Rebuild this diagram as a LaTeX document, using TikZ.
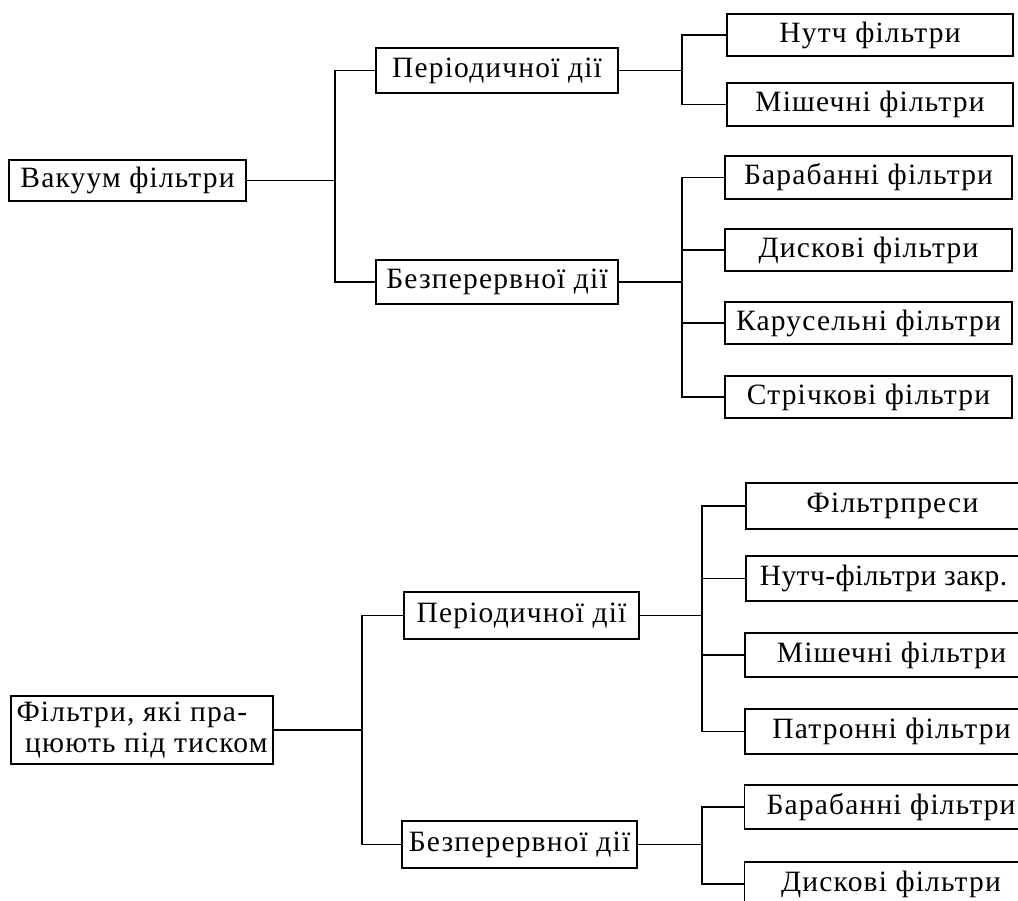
\documentclass[tikz,border=0pt]{standalone}
\usepackage{fontspec}
\setmainfont{Liberation Serif}[LetterSpace=4]
\begin{document}
\begin{tikzpicture}[x=1pt,y=-1pt,
  box/.style={draw, line width=1.6pt, inner sep=0pt, minimum height=#1, font=\fontsize{29.5}{31}\selectfont},
  box/.default=43pt,
  conn/.style={line width=1.6pt}]
\useasboundingbox (0,0) rectangle (1018,901);
\clip (0,0) rectangle (1018,901);
% top tree
\node[box, minimum width=237pt, minimum height=41pt] (vac) at (127.5,180.5) {Вакуум фільтри};
\node[box, minimum width=242pt, minimum height=45pt] (per1) at (497,70.5) {Періодичної дії};
\node[box, minimum width=242pt, minimum height=44pt] (bez1) at (497,282) {Безперервної дії};
\node[box, minimum width=286pt, minimum height=42pt] (n1) at (870,35) {Нутч фільтри};
\node[box, minimum width=286pt, minimum height=43pt] (m1) at (870,104.5) {Мішечні фільтри};
\node[box, minimum width=287pt, minimum height=43pt] (b1) at (868.5,177.5) {Барабанні фільтри};
\node[box, minimum width=287pt, minimum height=42pt] (d1) at (868.5,250) {Дискові фільтри};
\node[box, minimum width=287pt, minimum height=42pt] (k1) at (868.5,323) {Карусельні фільтри};
\node[box, minimum width=287pt, minimum height=42pt] (s1) at (868.5,397) {Стрічкові фільтри};
\coordinate (bus1) at (335,0);
\coordinate (bus2) at (682,0);
\draw[conn] (vac.east) -- (vac.east -| bus1);
\draw[conn] (per1.west) -| (bus1 |- bez1.west) -- (bez1.west);
\draw[conn] (per1.east) -- (per1.east -| bus2);
\draw[conn] (n1.west) -| (bus2 |- m1.west) -- (m1.west);
\draw[conn] (bez1.east) -- (bez1.east -| bus2);
\draw[conn] (b1.west) -| (bus2 |- s1.west) -- (s1.west);
\draw[conn] (d1.west) -- (d1.west -| bus2);
\draw[conn] (k1.west) -- (k1.west -| bus2);
% bottom tree
\node[box, minimum width=262pt, minimum height=68pt, align=left] (pr) at (142,730) {Фільтри, які пра-\\\ цюють під тиском};
\node[box, minimum width=235pt, minimum height=47pt] (per2) at (521.5,615.5) {Періодичної дії};
\node[box, minimum width=235pt, minimum height=47pt] (bez2) at (519.5,844.5) {Безперервної дії};
\node[box, minimum width=293pt, minimum height=46pt] (f2) at (892.5,506) {Фільтрпреси};
\node[box, minimum width=293pt, minimum height=45pt] (nz2) at (892.5,578.5) {\hspace*{-18pt}{\addfontfeature{LetterSpace=1.5}Нутч-фільтри закр.}};
\node[box, minimum width=293pt, minimum height=44pt] (m2) at (891.5,655) {Мішечні фільтри};
\node[box, minimum width=293pt, minimum height=45pt] (p2) at (891.5,731.5) {Патронні фільтри};
\node[box, minimum width=293pt, minimum height=44pt] (b2) at (891,807) {Барабанні фільтри};
\node[box, minimum width=293pt, minimum height=44pt] (d2) at (891,884) {Дискові фільтри};
\coordinate (bus3) at (362,0);
\coordinate (bus4) at (702,0);
\draw[conn] (pr.east) -- (pr.east -| bus3);
\draw[conn] (per2.west) -| (bus3 |- bez2.west) -- (bez2.west);
\draw[conn] (per2.east) -- (per2.east -| bus4);
\draw[conn] (f2.west) -| (bus4 |- p2.west) -- (p2.west);
\draw[conn] (nz2.west) -- (nz2.west -| bus4);
\draw[conn] (m2.west) -- (m2.west -| bus4);
\draw[conn] (bez2.east) -- (bez2.east -| bus4);
\draw[conn] (b2.west) -| (bus4 |- d2.west) -- (d2.west);
\end{tikzpicture}
\end{document}
